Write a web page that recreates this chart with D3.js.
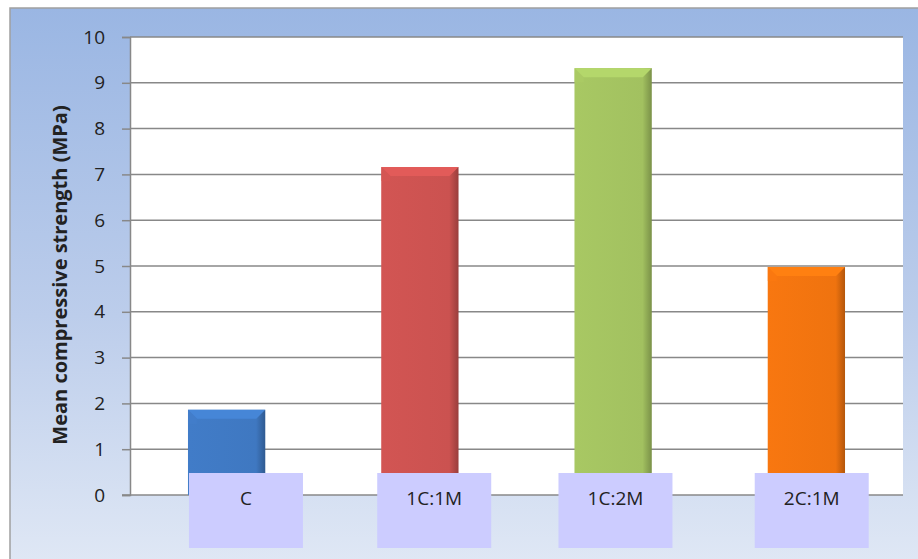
<!DOCTYPE html>
<html>
<head>
<meta charset="utf-8">
<script src="https://cdnjs.cloudflare.com/ajax/libs/d3/7.8.5/d3.min.js"></script>
<style>
  body { margin: 0; background: #ffffff; }
  svg { display: block; }
</style>
</head>
<body>
<svg id="drawing_region"></svg>
<script>
// chart values
const categories = ['C', '1C:1M', '1C:2M', '2C:1M'];
const strength = [1.86, 7.16, 9.32, 4.98];
const yTicks = [0, 1, 2, 3, 4, 5, 6, 7, 8, 9, 10];

// layout / style constants
const barColors = ['#3f78c1', '#cb5250', '#a2c160', '#ef730f'];
const labelShift = [1, -4, -16, -13];
const font = 'Open Sans, Liberation Sans, sans-serif';

const width = 918, height = 559;
const margin = {top: 37, right: 15, bottom: 64, left: 130};
const innerW = width - margin.left - margin.right;
const innerH = height - margin.top - margin.bottom;

const svg = d3.select('#drawing_region')
    .attr('width', width)
    .attr('height', height);

const defs = svg.append('defs');

const bg = defs.append('linearGradient')
    .attr('id', 'bg').attr('x1', 0).attr('y1', 0).attr('x2', 0).attr('y2', 1);
bg.append('stop').attr('offset', '0%').attr('stop-color', '#9ab6e3');
bg.append('stop').attr('offset', '55%').attr('stop-color', '#bccdeb');
bg.append('stop').attr('offset', '100%').attr('stop-color', '#e0e8f5');

barColors.forEach((c, i) => {
    const g = defs.append('linearGradient')
        .attr('id', 'bar' + i).attr('x1', 0).attr('y1', 0).attr('x2', 1).attr('y2', 0);
    g.append('stop').attr('offset', '0%').attr('stop-color', d3.color(c).brighter(0.1));
    g.append('stop').attr('offset', '88%').attr('stop-color', c);
    g.append('stop').attr('offset', '100%').attr('stop-color', d3.color(c).darker(0.8));
});

// outer frame
svg.append('rect')
    .attr('x', 10).attr('y', 8)
    .attr('width', width).attr('height', height)
    .attr('fill', 'url(#bg)')
    .attr('stroke', '#a0a0a0')
    .attr('stroke-width', 1.5);

const chart = svg.append('g')
    .attr('transform', `translate(${margin.left}, ${margin.top})`);

const xscale = d3.scaleBand()
    .domain(categories)
    .range([0, innerW])
    .paddingInner(0.6)
    .paddingOuter(0.3);

const yscale = d3.scaleLinear()
    .domain([0, 10])
    .range([innerH, 0]);

// plot area
chart.append('rect')
    .attr('x', 0).attr('y', 0)
    .attr('width', innerW).attr('height', innerH)
    .attr('fill', '#ffffff');

// gridlines
chart.append('g')
    .selectAll('line')
    .data(yTicks.filter(d => d > 0))
    .join('line')
    .attr('x1', 0).attr('x2', innerW)
    .attr('y1', d => yscale(d)).attr('y2', d => yscale(d))
    .attr('stroke', '#888888')
    .attr('stroke-width', 1.5);

// y axis
const yaxis = d3.axisLeft(yscale)
    .tickValues(yTicks)
    .tickSize(8)
    .tickPadding(17)
    .tickFormat(d3.format('d'));

const yaxis_group = chart.append('g').call(yaxis);
yaxis_group.select('.domain').attr('stroke', '#888888').attr('stroke-width', 1.5);
yaxis_group.selectAll('.tick line').attr('stroke', '#888888').attr('stroke-width', 1.5);
yaxis_group.selectAll('.tick text')
    .attr('font-family', font)
    .attr('font-size', '19px')
    .attr('fill', '#222');

// baseline
chart.append('line')
    .attr('x1', -8).attr('x2', innerW)
    .attr('y1', innerH).attr('y2', innerH)
    .attr('stroke', '#888888')
    .attr('stroke-width', 1.5);

// bars
const bw = xscale.bandwidth();
const bars = chart.append('g')
    .selectAll('g')
    .data(strength)
    .join('g')
    .attr('transform', (d, i) => `translate(${xscale(categories[i])}, ${yscale(d)})`);

bars.append('rect')
    .attr('x', 0).attr('y', 0)
    .attr('width', bw)
    .attr('height', d => innerH - yscale(d))
    .attr('fill', (d, i) => `url(#bar${i})`);

// top bevel
bars.append('path')
    .attr('d', `M0,0 L${bw},0 L${bw - 9},9 L9,9 Z`)
    .attr('fill', (d, i) => d3.color(barColors[i]).brighter(0.3));
bars.append('path')
    .attr('d', `M0,0 L9,9 L9,14 L0,14 Z`)
    .attr('fill', (d, i) => d3.color(barColors[i]).brighter(0.15))
    .attr('opacity', 0.6);

// category label boxes
const boxW = 114, boxH = 75;
const labels = chart.append('g')
    .selectAll('g')
    .data(categories)
    .join('g')
    .attr('transform', (d, i) => `translate(${xscale(d) + labelShift[i]}, ${innerH - 22})`);

labels.append('rect')
    .attr('width', boxW).attr('height', boxH)
    .attr('fill', '#ccccff');

labels.append('text')
    .attr('x', boxW / 2)
    .attr('y', 32)
    .attr('text-anchor', 'middle')
    .attr('font-family', font)
    .attr('font-size', '19px')
    .attr('fill', '#222')
    .text(d => d);

// y label
svg.append('text')
    .attr('transform', `translate(67, 275) rotate(-90)`)
    .attr('text-anchor', 'middle')
    .attr('font-family', font)
    .attr('font-size', '20px')
    .attr('font-weight', 'bold')
    .attr('fill', '#222')
    .text('Mean compressive strength (MPa)');
</script>
</body>
</html>
